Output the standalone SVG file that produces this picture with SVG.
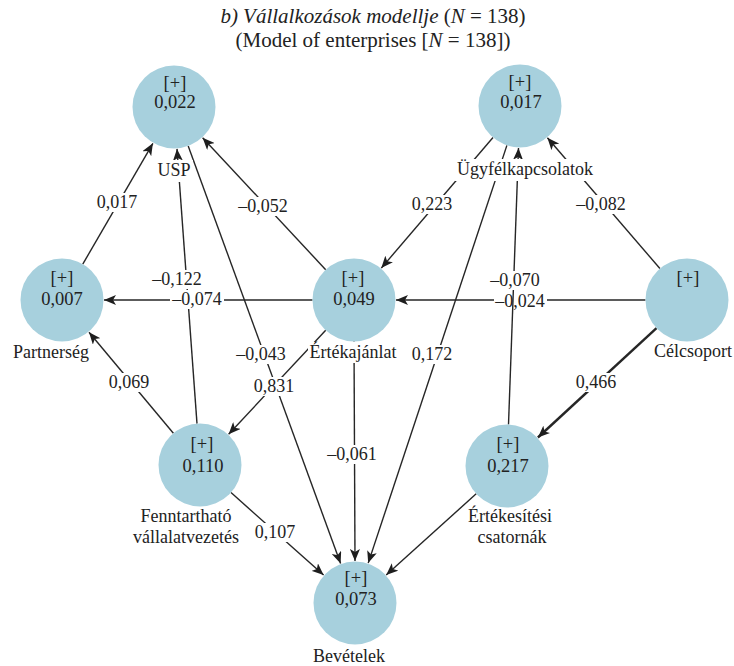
<svg xmlns="http://www.w3.org/2000/svg" width="734" height="666" viewBox="0 0 734 666">
  <style>
    text { font-family: "Liberation Serif", "Times New Roman", serif; fill: #222; }
    .title { font-size: 21px; text-anchor: middle; }
    .node circle { fill: #a7d0dd; }
    .node text { font-size: 18.5px; text-anchor: middle; }
    .node text.name { font-size: 18px; }
    .edge { fill: none; stroke: #262626; stroke-width: 1.4; marker-end: url(#arrow); }
    .edge.strong { stroke-width: 2.4; }
    .elabel { font-size: 18px; text-anchor: middle; }
    .bg { fill: #ffffff; }
  </style>
  <defs>
    <marker id="arrow" viewBox="0 0 12 10" refX="12" refY="5" markerWidth="12" markerHeight="10" markerUnits="userSpaceOnUse" orient="auto">
      <path d="M0,0 L12,5 L0,10 L3,5 Z" fill="#1e1e1e"/>
    </marker>
  </defs>

  <rect width="734" height="666" fill="#ffffff"/>

  <!-- heading -->
  <g id="title">
    <text class="title" x="373" y="23"><tspan font-style="italic">b) Vállalkozások modellje</tspan> (<tspan font-style="italic">N</tspan> = 138)</text>
    <text class="title" x="373" y="47">(Model of enterprises [<tspan font-style="italic">N</tspan> = 138])</text>
  </g>

  <!-- path connectors, each clipped to the circle rims -->
  <g id="connectors">
    <line class="edge" x1="82.8" y1="264.1" x2="152.9" y2="143.3"/>
    <line class="edge" x1="197" y1="423.6" x2="177" y2="148.9"/>
    <line class="edge" x1="325.7" y1="269.7" x2="202.6" y2="137.7"/>
    <line class="edge" x1="188.2" y1="146" x2="340.6" y2="563.6"/>
    <line class="edge" x1="312.5" y1="300" x2="104" y2="300"/>
    <line class="edge" x1="493" y1="137.5" x2="381.3" y2="268.1"/>
    <line class="edge" x1="659.9" y1="268.5" x2="547.4" y2="137.8"/>
    <path class="edge" d="M645.5,300 H547 M494,300 H396"/>
    <line class="edge" x1="508.5" y1="424.5" x2="518.5" y2="148"/>
    <line class="edge" x1="506.9" y1="145.4" x2="368.2" y2="563.1"/>
    <line class="edge strong" x1="656.5" y1="328.1" x2="537.9" y2="437.5"/>
    <line class="edge" x1="325.7" y1="330.3" x2="228.6" y2="434.3"/>
    <line class="edge" x1="173.4" y1="433.2" x2="89" y2="332.2"/>
    <line class="edge" x1="354" y1="341.5" x2="355" y2="561"/>
    <line class="edge" x1="231" y1="492.6" x2="323.6" y2="575.1"/>
    <line class="edge" x1="476.2" y1="493.8" x2="386.2" y2="574.9"/>
  </g>

  <!-- path coefficients on white knock-out boxes -->
  <g id="edge-labels">
    <rect class="bg" x="95" y="193" width="44" height="19"/>
    <text class="elabel" x="117" y="208">0,017</text>
    <rect class="bg" x="236" y="197" width="54" height="19"/>
    <text class="elabel" x="263" y="212">–0,052</text>
    <rect class="bg" x="410" y="195" width="44" height="19"/>
    <text class="elabel" x="432" y="210">0,223</text>
    <rect class="bg" x="574" y="195" width="54" height="19"/>
    <text class="elabel" x="601" y="210">–0,082</text>
    <rect class="bg" x="150" y="270" width="54" height="19"/>
    <text class="elabel" x="177" y="285">–0,122</text>
    <rect class="bg" x="170" y="290" width="54" height="19"/>
    <text class="elabel" x="197" y="305">–0,074</text>
    <rect class="bg" x="234" y="345" width="54" height="19"/>
    <text class="elabel" x="261" y="360">–0,043</text>
    <rect class="bg" x="107" y="373" width="44" height="19"/>
    <text class="elabel" x="129" y="388">0,069</text>
    <rect class="bg" x="252" y="377" width="44" height="19"/>
    <text class="elabel" x="274" y="392">0,831</text>
    <rect class="bg" x="488" y="271" width="54" height="19"/>
    <text class="elabel" x="515" y="286">–0,070</text>
    <text class="elabel" x="520" y="307">–0,024</text>
    <rect class="bg" x="410" y="345" width="44" height="19"/>
    <text class="elabel" x="432" y="360">0,172</text>
    <rect class="bg" x="574" y="373" width="44" height="19"/>
    <text class="elabel" x="596" y="388">0,466</text>
    <rect class="bg" x="325" y="445" width="54" height="19"/>
    <text class="elabel" x="352" y="460">–0,061</text>
    <rect class="bg" x="253" y="523" width="44" height="19"/>
    <text class="elabel" x="275" y="538">0,107</text>
  </g>

  <!-- constructs -->
  <g id="usp" class="node">
    <circle cx="174" cy="107" r="41.5"/>
    <text x="175" y="89">[+]</text>
    <text x="175" y="108">0,022</text>
    <rect class="bg" x="156" y="160" width="37" height="22"/>
    <text class="name" x="174" y="176">USP</text>
  </g>
  <g id="ugyfelkapcsolatok" class="node">
    <circle cx="520" cy="106" r="41.5"/>
    <text x="520" y="88">[+]</text>
    <text x="521" y="108">0,017</text>
    <rect class="bg" x="455" y="159" width="140" height="22"/>
    <text class="name" x="525" y="175">Ügyfélkapcsolatok</text>
  </g>
  <g id="partnerseg" class="node">
    <circle cx="62" cy="300" r="41.5"/>
    <text x="62" y="284">[+]</text>
    <text x="62" y="305">0,007</text>
    <text class="name" x="51" y="358">Partnerség</text>
  </g>
  <g id="ertekajanlat" class="node">
    <circle cx="354" cy="300" r="41.5"/>
    <text x="353" y="284">[+]</text>
    <text x="354" y="305">0,049</text>
    <rect class="bg" x="308" y="342" width="91" height="21"/>
    <text class="name" x="353" y="358">Értékajánlat</text>
  </g>
  <g id="celcsoport" class="node">
    <circle cx="687" cy="300" r="41.5"/>
    <text x="688" y="284">[+]</text>
    <text class="name" x="693" y="357">Célcsoport</text>
  </g>
  <g id="fenntarthato" class="node">
    <circle cx="200" cy="465" r="41.5"/>
    <text x="202" y="450">[+]</text>
    <text x="203" y="472">0,110</text>
    <text class="name" x="186" y="522">Fenntartható</text>
    <text class="name" x="186" y="543">vállalatvezetés</text>
  </g>
  <g id="ertekesitesi" class="node">
    <circle cx="507" cy="466" r="41.5"/>
    <text x="508" y="450">[+]</text>
    <text x="508" y="472">0,217</text>
    <text class="name" x="510" y="522">Értékesítési</text>
    <text class="name" x="512" y="543">csatornák</text>
  </g>
  <g id="bevetelek" class="node">
    <circle cx="355" cy="603" r="41.5"/>
    <text x="356" y="584">[+]</text>
    <text x="356" y="605">0,073</text>
    <text class="name" x="349" y="662">Bevételek</text>
  </g>
</svg>
